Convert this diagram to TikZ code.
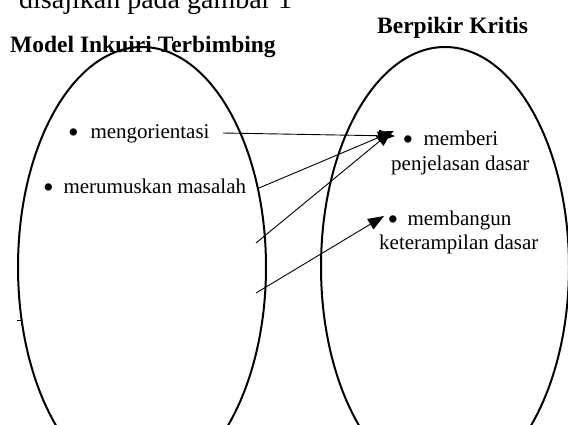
\documentclass[tikz,border=0pt]{standalone}
\usepackage{fontspec}
\setmainfont{Liberation Serif}
\usetikzlibrary{arrows.meta}
\newcommand{\bigbul}{\raisebox{-4pt}{\scalebox{1.45}{\textbullet}}}
\tikzset{
  oval/.style={draw=black, line width=2pt},
  txt/.style={inner sep=0pt, anchor=base west, font=\fontsize{21}{24}\selectfont},
  hdr/.style={inner sep=0pt, anchor=base west, font=\fontsize{23.5}{26}\selectfont\bfseries},
  link/.style={draw=black, line width=0.9pt, -{Triangle[length=16pt,width=12pt]}}
}
\begin{document}
\begin{tikzpicture}[x=1pt,y=-1pt]
\useasboundingbox (0,0) rectangle (568,424);
\begin{scope}
\clip (0,0) rectangle (568,424);
% ellipses
\draw[oval] (142,267) ellipse [x radius=124, y radius=220];
\draw[oval] (445,267) ellipse [x radius=124, y radius=220];
% top text
\node[inner sep=0pt, anchor=base west, font=\fontsize{28}{30}\selectfont] (cap) at (19,8) {disajikan pada gambar 1};
\end{scope}
\node[hdr] (hl) at (10,52) {Model Inkuiri Terbimbing};
\node[hdr] (hr) at (377,33) {Berpikir Kritis};
% left items
\node[txt] (a1) at (68,138) {\bigbul\hspace{11.7pt}mengorientasi};
\node[txt] (a2) at (43,193) {\bigbul\hspace{9.7pt}merumuskan masalah};
% right items
\node[txt] (b1) at (402.3,145) {\bigbul\hspace{10.4pt}memberi};
\node[txt] (b1b) at (391,170) {penjelasan dasar};
\node[txt] (b2) at (387.3,225) {\bigbul\hspace{9.4pt}membangun};
\node[txt] (b2b) at (379,249) {keterampilan dasar};
% connector ends
\coordinate (s1) at (223,133);
\coordinate (s2) at (259,188);
\coordinate (s3) at (256,243);
\coordinate (s4) at (256,293);
\coordinate (t1) at (395,136);
\coordinate (t2) at (394,131);
\coordinate (t3) at (392,131);
\coordinate (t4) at (384,216);
\draw[link] (s1) -- (t1);
\draw[link] (s2) -- (t2);
\draw[link] (s3) -- (t3);
\draw[link] (s4) -- (t4);
% small stray tick on left oval
\draw[line width=0.9pt] (17,320) -- (21,320);
\end{tikzpicture}
\end{document}
